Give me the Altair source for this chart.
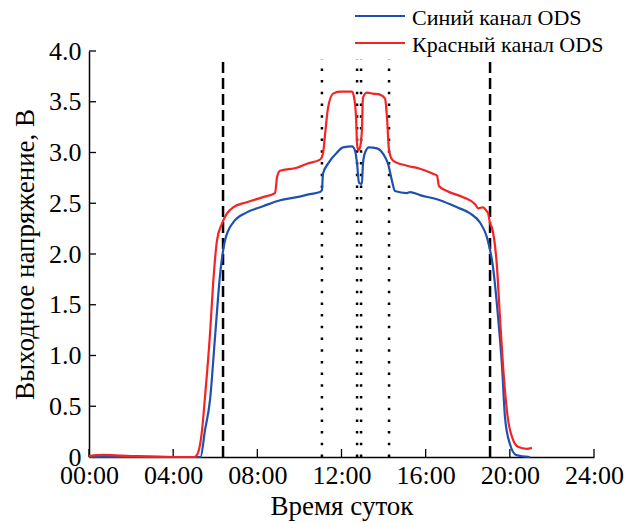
import altair as alt
import pandas as pd

# ---- data ----
series = ["Синий канал ODS", "Красный канал ODS"]
colors = ["#1f4fb0", "#f52424"]

blue_h = [0, 5.3, 5.51, 5.75, 6.0, 6.23, 6.46, 6.85, 7.5, 8.27, 9.08, 9.88, 10.5, 10.98, 11.07,
          11.12, 11.36, 11.79, 12.07, 12.5, 12.64, 12.74, 12.83, 12.97, 13.02, 13.12, 13.31,
          13.69, 13.97, 14.21, 14.4, 14.54, 15.11, 15.26, 15.73, 16.68, 17.49, 18.11, 18.58,
          18.92, 19.2, 19.44, 19.63, 19.77, 20.0, 20.3, 20.96]
blue_v = [0.0, 0.0, 0.26, 0.56, 1.21, 1.80, 2.13, 2.31, 2.41, 2.47, 2.53, 2.56, 2.59, 2.61, 2.63,
          2.79, 2.89, 3.0, 3.05, 3.06, 3.02, 2.89, 2.70, 2.69, 2.89, 3.0, 3.05,
          3.04, 2.99, 2.89, 2.72, 2.62, 2.60, 2.61, 2.58, 2.53, 2.46, 2.40, 2.31,
          2.16, 1.87, 1.38, 0.89, 0.39, 0.13, 0.02, 0.0]

red_h = [0, 0.7, 2.0, 4.0, 5.0, 5.13, 5.37, 5.5, 5.75, 5.9, 6.08, 6.32, 6.56, 6.85, 7.5, 8.27,
         8.84, 8.94, 9.08, 9.88, 10.36, 10.98, 11.12, 11.22, 11.36, 11.6, 11.93, 12.5, 12.6,
         12.69, 12.74, 12.79, 12.88, 12.97, 13.02, 13.21, 13.5, 13.83, 14.07, 14.16, 14.26,
         14.45, 15.11, 15.73, 16.35, 16.54, 16.63, 17.01, 17.78, 18.35, 18.5, 18.73, 18.87,
         18.97, 19.06, 19.15, 19.39, 19.53, 19.68, 19.9, 20.15, 20.39, 20.8, 21.05]
red_v = [0.01, 0.02, 0.01, 0.0, 0.0, 0.02, 0.26, 0.56, 1.21, 1.71, 2.13, 2.30, 2.40, 2.46, 2.51, 2.56,
         2.60, 2.76, 2.82, 2.85, 2.89, 2.93, 2.99, 3.18, 3.44, 3.58, 3.60, 3.60, 3.54,
         3.35, 3.09, 3.02, 3.05, 3.22, 3.54, 3.59, 3.58, 3.57, 3.53, 3.35, 3.02,
         2.92, 2.87, 2.84, 2.79, 2.77, 2.67, 2.62, 2.56, 2.49, 2.45, 2.46, 2.43,
         2.40, 2.30, 2.26, 1.87, 1.38, 0.89, 0.39, 0.17, 0.10, 0.08, 0.09]

dashed_h = [6.37, 19.06]
dotted_h = [11.07, 12.74, 12.93, 14.26]
marker_top = 3.92

x_ticks = [0, 4, 8, 12, 16, 20, 24]
y_ticks = [0, 0.5, 1.0, 1.5, 2.0, 2.5, 3.0, 3.5, 4.0]

x_title = "Время суток"
y_title = "Выходное напряжение, В"

# ---- chart ----
W, H = 505, 406
FONT = "Liberation Serif"

df_blue = pd.DataFrame({"t": blue_h, "v": blue_v, "s": series[0]})
df_red = pd.DataFrame({"t": red_h, "v": red_v, "s": series[1]})
df_dashed = pd.DataFrame({"t": dashed_h, "v": 0.0, "v2": marker_top})
df_dotted = pd.DataFrame({"t": dotted_h, "v": 0.0, "v2": marker_top})
df_xt = pd.DataFrame({"t": x_ticks})
df_yt = pd.DataFrame({"v": y_ticks})

axis_style = dict(
    grid=False, domainColor="black", domainWidth=1.5, tickSize=0,
    labelFont=FONT, labelFontSize=26, labelColor="black",
    titleFont=FONT, titleFontSize=27, titleFontWeight="normal", titleColor="black",
)
x_axis = alt.Axis(values=x_ticks, title=x_title, labelPadding=5, titlePadding=5,
                  labelFlush=False, labelOverlap=False,
                  labelExpr="(datum.value < 10 ? '0' : '') + datum.value + ':00'", **axis_style)
y_axis = alt.Axis(values=y_ticks, title=y_title, labelPadding=8, titlePadding=9,
                  labelOverlap=False,
                  labelExpr="datum.value == 0 ? '0' : format(datum.value, '.1f')", **axis_style)
x_enc = alt.X("t:Q", scale=alt.Scale(domain=[0, 24], nice=False), axis=x_axis)
y_enc = alt.Y("v:Q", scale=alt.Scale(domain=[0, 4], nice=False), axis=y_axis)

color = alt.Color("s:N", scale=alt.Scale(domain=series, range=colors), legend=None)

blue = alt.Chart(df_blue).mark_line(strokeWidth=2.2, interpolate="monotone").encode(
    x=x_enc, y=y_enc, color=color)
red = alt.Chart(df_red).mark_line(strokeWidth=2.2, interpolate="monotone").encode(
    x=x_enc, y=y_enc, color=color)

dashed = alt.Chart(df_dashed).mark_rule(color="black", strokeWidth=2.5, strokeDash=[11, 5]).encode(
    x=x_enc, y=y_enc, y2="v2:Q")
dotted = alt.Chart(df_dotted).mark_rule(color="black", strokeWidth=2.5, strokeDash=[2.5, 9.2]).encode(
    x=x_enc, y=y_enc, y2="v2:Q")

xt = alt.Chart(df_xt).mark_rule(color="black", strokeWidth=1.3).encode(
    x=x_enc, y=alt.value(H), y2=alt.value(H - 8))
yt = alt.Chart(df_yt).mark_rule(color="black", strokeWidth=1.3).encode(
    y=y_enc, x=alt.value(0), x2=alt.value(7))

# legend (drawn as marks, above the plot area, right side)
legend_layers = []
for i, (name, col) in enumerate(zip(series, colors)):
    line_y = -35 + 27 * i
    ldf = pd.DataFrame({"s": [name]})
    legend_layers.append(
        alt.Chart(ldf).mark_rule(color=col, strokeWidth=2.2).encode(
            x=alt.value(266), x2=alt.value(316), y=alt.value(line_y)))
    legend_layers.append(
        alt.Chart(ldf).mark_text(align="left", baseline="alphabetic", font=FONT, fontSize=22,
                                 color="black").encode(
            x=alt.value(323), y=alt.value(line_y + 9), text="s:N"))

chart = (
    alt.layer(dashed, dotted, xt, yt, blue, red, *legend_layers)
    .properties(
        width=W, height=H,
        autosize=alt.AutoSizeParams(type="none"),
        padding={"left": 81, "top": 43, "right": 30, "bottom": 64},
    )
    .configure(font=FONT)
    .configure_view(stroke=None)
)

chart.save("out.html", embed_options={"renderer": "svg", "actions": False})
